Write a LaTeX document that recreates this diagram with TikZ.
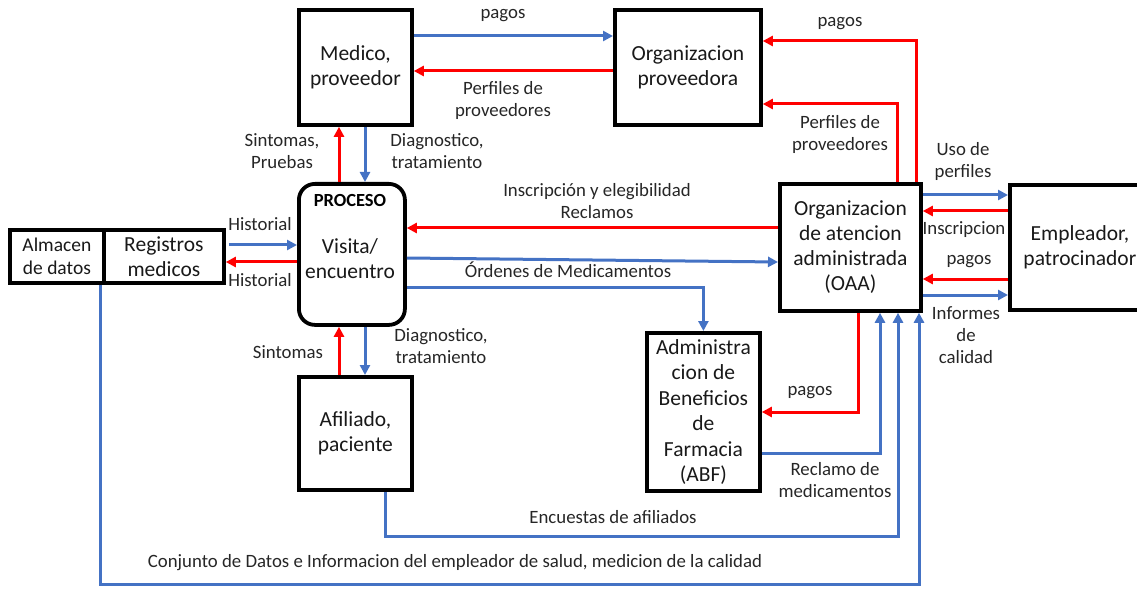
\documentclass[tikz,border=0pt]{standalone}
\usepackage{fontspec}
\setmainfont{Carlito}
\usetikzlibrary{arrows.meta,calc}
\definecolor{fblue}{HTML}{4472C4}
\definecolor{fred}{HTML}{FF0000}
\begin{document}
\begin{tikzpicture}[x=1pt,y=-1pt,
  box/.style={draw=black, line width=3.8pt, fill=white, align=center,
    font=\fontsize{21.5}{25}\selectfont, anchor=north west, inner sep=0pt, text=black!90},
  lbl/.style={align=center, font=\fontsize{18.8}{22}\selectfont, inner sep=0pt, text=black!85},
  barrow/.style={draw=fblue, line width=3pt, -{Triangle[length=10pt,width=10pt]}},
  rarrow/.style={draw=fred, line width=3pt, -{Triangle[length=10pt,width=10pt]}}]
\useasboundingbox (0,0) rectangle (1137,612);
\clip (0,0) rectangle (1137,612);

% boxes
\node[box, minimum width=113pt, minimum height=115pt] (med) at (297,8) {Medico,\\proveedor};
\node[box, minimum width=146pt, minimum height=115pt] (org) at (613,8) {Organizacion\\proveedora};
\node[box, rounded corners=16pt, minimum width=106pt, minimum height=141pt] (proc) at (297,182) {};
\node[font=\fontsize{18.5}{22}\selectfont\bfseries, inner sep=0pt] (proct) at (350,200) {PROCESO};
\node[font=\fontsize{21.5}{25}\selectfont, align=center, inner sep=0pt, text=black!90] (procv) at (350,259) {Visita/\\encuentro};
\node[box, minimum width=94pt, minimum height=53pt, font=\fontsize{19.5}{23}\selectfont] (almL) at (8,228) {Almacen\\de datos};
\node[box, minimum width=120pt, minimum height=53pt] (almR) at (102,228) {Registros\\medicos};
\node[box, minimum width=113pt, minimum height=113pt] (afil) at (297,375) {Afiliado,\\paciente};
\node[box, minimum width=113pt, minimum height=158pt, font=\fontsize{21.5}{25.5}\selectfont] (abf) at (645,331) {Administra\\cion de\\Beneficios\\de\\Farmacia\\(ABF)};
\node[box, minimum width=141pt, minimum height=127pt] (oaa) at (778,182) {Organizacion\\de atencion\\administrada\\(OAA)};
\node[box, minimum width=140pt, minimum height=125pt] (emp) at (1008,183) {Empleador,\\patrocinador};

% connectors
\draw[barrow] (med.east |- 0,36) -- (org.west |- 0,36);
\draw[rarrow] (org.west |- 0,71) -- (med.east |- 0,71);
\draw[rarrow] (proc.north -| 339,0) -- (med.south -| 339,0);
\draw[barrow] (med.south -| 365,0) -- (proc.north -| 365,0);
\draw[rarrow] (afil.north -| 339,0) -- (proc.south -| 339,0);
\draw[barrow] (proc.south -| 365,0) -- (afil.north -| 365,0);
\draw[barrow, shorten <=3pt] (almR.east |- 0,245) -- (proc.west |- 0,245);
\draw[rarrow] (proc.west |- 0,262) -- (almR.east |- 0,262);
\draw[rarrow] (oaa.west |- 0,228) -- (proc.east |- 0,228);
\draw[barrow] (proc.east |- 0,258) -- (oaa.west |- 0,262);
\draw[barrow] (proc.east |- 0,287) -| (abf.north);
\draw[rarrow] (oaa.north -| 916,0) |- (org.east |- 0,41);
\draw[rarrow] (oaa.north -| 897,0) |- (org.east |- 0,104);
\draw[barrow] (oaa.east |- 0,195) -- (emp.west |- 0,195);
\draw[rarrow] (emp.west |- 0,211) -- (oaa.east |- 0,211);
\draw[rarrow] (emp.west |- 0,279) -- (oaa.east |- 0,279);
\draw[barrow] (oaa.east |- 0,295) -- (emp.west |- 0,295);
\draw[rarrow] (oaa.south -| 858,0) |- (abf.east |- 0,412);
\draw[barrow] (abf.east |- 0,453) -| (oaa.south -| 880,0);
\draw[barrow] (afil.south -| 385,0) |- (898,536) -- (oaa.south -| 898,0);
\draw[barrow] (almL.south -| 100,0) |- (919,584) -- (oaa.south -| 919,0);

% labels
\node[lbl] (l1) at (503,16) {pagos};
\node[lbl] (l2) at (503,100) {Perfiles de\\proveedores};
\node[lbl] (l3) at (840,24) {pagos};
\node[lbl] (l4) at (840,134) {Perfiles de\\proveedores};
\node[lbl] (l5) at (963,161) {Uso de\\perfiles};
\node[lbl] (l6) at (964,230) {Inscripcion};
\node[lbl] (l7) at (969,262) {pagos};
\node[lbl] (l8) at (966,335) {Informes\\de\\calidad};
\node[lbl] (l9) at (282,151) {Sintomas,\\Pruebas};
\node[lbl] (l10) at (437,151) {Diagnostico,\\tratamiento};
\node[lbl] (l11) at (260,224) {Historial};
\node[lbl] (l12) at (260,280) {Historial};
\node[lbl] (l13) at (597,201) {Inscripción y elegibilidad\\Reclamos};
\node[lbl] (l14) at (568,270) {Órdenes de Medicamentos};
\node[lbl] (l15) at (288,352) {Sintomas};
\node[lbl] (l16) at (441,346) {Diagnostico,\\tratamiento};
\node[lbl] (l17) at (810,393) {pagos};
\node[lbl] (l18) at (835,480) {Reclamo de\\medicamentos};
\node[lbl] (l19) at (613,517) {Encuestas de afiliados};
\node[lbl] (l20) at (455,563) {Conjunto de Datos e Informacion del empleador de salud, medicion de la calidad};
\end{tikzpicture}
\end{document}
